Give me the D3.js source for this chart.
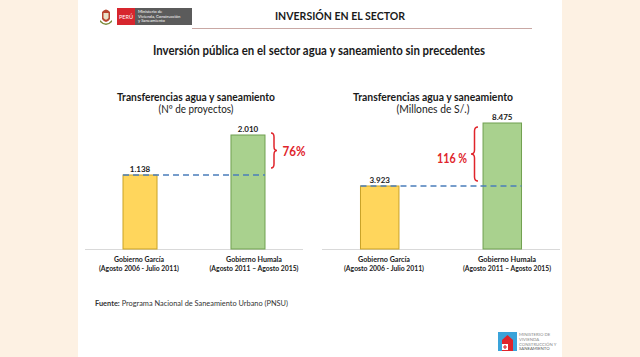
<!DOCTYPE html>
<html><head><meta charset="utf-8">
<script src="https://cdn.jsdelivr.net/npm/d3@7"></script>
<style>
html,body{margin:0;padding:0;background:#FDF1E3;}
svg{display:block;font-family:Lato,'Open Sans',sans-serif;}
</style>
</head><body><svg id="c" width="640" height="357"></svg>
<script>
// ---- data ----
const categories = ["Gobierno García", "Gobierno Humala"];
const periods = ["(Agosto 2006 - Julio 2011)", "(Agosto 2011 – Agosto 2015)"];
const projectCounts = [1138, 2010];
const investmentMillions = [3923, 8475];
const growthLabels = ["76%", "116 %"];
const chartTitles = ["Transferencias agua y saneamiento", "Transferencias agua y saneamiento"];
const chartUnits = ["(Nº de proyectos)", "(Millones de S/.)"];
const pageTitle = "INVERSIÓN EN EL SECTOR";
const subtitle = "Inversión pública en el sector agua y saneamiento sin precedentes";
const sourceLabel = "Fuente:";
const sourceText = " Programa Nacional de Saneamiento Urbano (PNSU)";
const ministryLines = ["Ministerio de", "Vivienda, Construcción", "y Saneamiento"];
const logoLines = ["MINISTERIO DE", "VIVIENDA", "CONSTRUCCIÓN Y", "SANEAMIENTO"];

const fmt = d3.formatLocale({decimal: ",", thousands: ".", grouping: [3], currency: ["S/", ""]}).format(",d");
const svg = d3.select("#c");

function fit(sel, w) { sel.attr("textLength", w).attr("lengthAdjust", "spacingAndGlyphs"); return sel; }

// slide background
svg.append("rect").attr("x", 0).attr("y", 0).attr("width", 640).attr("height", 357).attr("fill", "#FDF1E3");
svg.append("rect").attr("x", 78).attr("y", 0).attr("width", 484).attr("height", 357).attr("fill", "#ffffff");

// ---- header ----
const sh = svg.append("g").attr("transform", "translate(100,8)");
sh.append("path").attr("d", "M2,4 Q6,-1 10,4 L10,11 Q6,17 2,11 Z").attr("fill", "#b8452f");
sh.append("path").attr("d", "M3.5,5 L8.5,5 L8.5,10 Q6,13.5 3.5,10 Z").attr("fill", "#e9e2c8");
sh.append("path").attr("d", "M0,12 Q6,19 12,12 L12,14 Q6,20 0,14 Z").attr("fill", "#7a8a3a");
svg.append("rect").attr("x", 117).attr("y", 8).attr("width", 18).attr("height", 17).attr("fill", "#d7262e");
svg.append("text").attr("x", 126).attr("y", 19).attr("text-anchor", "middle").attr("font-size", 5.5).attr("fill", "#fff").text("PERÚ");
svg.append("rect").attr("x", 135).attr("y", 8).attr("width", 57).attr("height", 17).attr("fill", "#5b5b5b");
svg.selectAll("text.min").data(ministryLines).join("text").attr("class", "min")
  .attr("x", 138).attr("y", (d, i) => 13 + i * 4.6).attr("font-size", 4.2).attr("fill", "#fff").text(d => d);

svg.append("line").attr("x1", 192).attr("x2", 532).attr("y1", 28.5).attr("y2", 28.5)
  .attr("stroke", "#c9a8a4").attr("stroke-width", 1);
fit(svg.append("text").attr("x", 340).attr("y", 19.5).attr("text-anchor", "middle")
  .attr("font-size", 12).attr("font-weight", 700).attr("fill", "#1a1a1a").text(pageTitle), 130);

fit(svg.append("text").attr("x", 319).attr("y", 55).attr("text-anchor", "middle")
  .attr("font-size", 13).attr("font-weight", 700).attr("fill", "#1a1a1a").text(subtitle), 332);

// ---- charts ----
const charts = [
  {values: projectCounts, x0: 85, x1: 303, pi: 0.685, po: 0.352, base: 249, top: 135, dMin: -475,
   cx: 196, titleW: 158, unitW: 75, labelW: [[50, 80], [56, 89]], catX: [139, 254],
   brace: {x: 271, dir: 1, w: 6, t: -2, b: -7}, growth: {x: 294, dy: 0, size: 14, w: 23}},
  {values: investmentMillions, x0: 322, x1: 560, pi: 0.686, po: 0.314, base: 249, top: 123, dMin: -629,
   cx: 433, titleW: 160, unitW: 73, labelW: [[52, 80], [58, 88]], catX: [384, 507],
   brace: {x: 478, dir: -1, w: 7, t: 4, b: -5}, growth: {x: 452, dy: 4, size: 13, w: 30}}
];

charts.forEach((c, ci) => {
  const g = svg.append("g");
  const x = d3.scaleBand().domain(categories).range([c.x0, c.x1]).paddingInner(c.pi).paddingOuter(c.po);
  const y = d3.scaleLinear().domain([c.dMin, d3.max(c.values)]).range([c.base, c.top]);
  const data = categories.map((k, i) => ({k, v: c.values[i], period: periods[i]}));

  fit(g.append("text").attr("x", c.cx).attr("y", 101).attr("text-anchor", "middle")
    .attr("font-size", 11.5).attr("font-weight", 700).attr("fill", "#1a1a1a").text(chartTitles[ci]), c.titleW);
  fit(g.append("text").attr("x", c.cx).attr("y", 113).attr("text-anchor", "middle")
    .attr("font-size", 11).attr("fill", "#1a1a1a").text(chartUnits[ci]), c.unitW);

  g.append("line").attr("x1", c.x0).attr("x2", c.x1).attr("y1", c.base + 0.5).attr("y2", c.base + 0.5)
    .attr("stroke", "#d9d9d9").attr("stroke-width", 1);

  const fills = ["#FFD65C", "#A9D18E"], strokes = ["#C9A227", "#70A050"];
  g.selectAll("rect.bar").data(data).join("rect").attr("class", "bar")
    .attr("x", d => x(d.k)).attr("width", x.bandwidth())
    .attr("y", d => y(d.v)).attr("height", d => c.base - y(d.v))
    .attr("fill", (d, i) => fills[i]).attr("stroke", (d, i) => strokes[i]).attr("stroke-width", 1);

  const v0 = data[0].v;
  g.append("line").attr("x1", x(categories[0])).attr("x2", x(categories[1]) + x.bandwidth())
    .attr("y1", y(v0)).attr("y2", y(v0))
    .attr("stroke", "#4A7EBB").attr("stroke-width", 1.5).attr("stroke-dasharray", "6,4");

  g.selectAll("text.val").data(data).join("text").attr("class", "val")
    .attr("x", d => x(d.k) + x.bandwidth() / 2).attr("y", d => y(d.v) - 3)
    .attr("text-anchor", "middle").attr("font-size", 8).attr("font-weight", 700).attr("fill", "#1a1a1a")
    .text(d => fmt(d.v));

  data.forEach((d, i) => {
    fit(g.append("text").attr("x", c.catX[i]).attr("y", 262).attr("text-anchor", "middle")
      .attr("font-size", 8).attr("font-weight", 700).attr("fill", "#1a1a1a").text(d.k), c.labelW[i][0]);
    fit(g.append("text").attr("x", c.catX[i]).attr("y", 271).attr("text-anchor", "middle")
      .attr("font-size", 8).attr("font-weight", 700).attr("fill", "#1a1a1a").text(d.period), c.labelW[i][1]);
  });

  const b = c.brace;
  const y1 = y(data[1].v) + b.t, y2 = y(v0) + b.b, ym = (y1 + y2) / 2, r = 4;
  const xa = b.x, xm = b.x + b.dir * b.w / 2, xt = b.x + b.dir * b.w;
  const p = `M${xa},${y1} Q${xm},${y1} ${xm},${y1 + r} L${xm},${ym - r} Q${xm},${ym} ${xt},${ym} ` +
            `Q${xm},${ym} ${xm},${ym + r} L${xm},${y2 - r} Q${xm},${y2} ${xa},${y2}`;
  g.append("path").attr("d", p).attr("fill", "none").attr("stroke", "#E0242B").attr("stroke-width", 1.5);

  fit(g.append("text").attr("x", c.growth.x).attr("y", ym + c.growth.dy + 5).attr("text-anchor", "middle")
    .attr("font-size", c.growth.size).attr("font-weight", 700).attr("fill", "#E0242B").text(growthLabels[ci]), c.growth.w);
});

// ---- footer ----
const ft = svg.append("text").attr("x", 95).attr("y", 306).attr("font-size", 7.5).attr("fill", "#333");
ft.append("tspan").attr("font-weight", 700).text(sourceLabel);
ft.append("tspan").text(sourceText);
fit(ft, 193);

const lg = svg.append("g").attr("transform", "translate(498,332)");
lg.append("rect").attr("width", 19).attr("height", 19).attr("fill", "#3AA3DA");
lg.append("path").attr("d", "M4,19 L4,8 L9.5,3 L15,8 L15,19 Z").attr("fill", "#E0242B");
lg.append("rect").attr("x", 4).attr("y", 12).attr("width", 6).attr("height", 6).attr("fill", "#fff");
lg.append("path").attr("d", "M7,13 L7,17 M5,15 L9,15").attr("stroke", "#E0242B").attr("stroke-width", 1.2);
svg.selectAll("text.logo").data(logoLines).join("text").attr("class", "logo")
  .attr("x", 519).attr("y", (d, i) => 336 + i * 4.8).attr("font-size", 4.3)
  .attr("fill", (d, i) => i === 3 ? "#555" : "#888").text(d => d);
</script>
</body></html>
